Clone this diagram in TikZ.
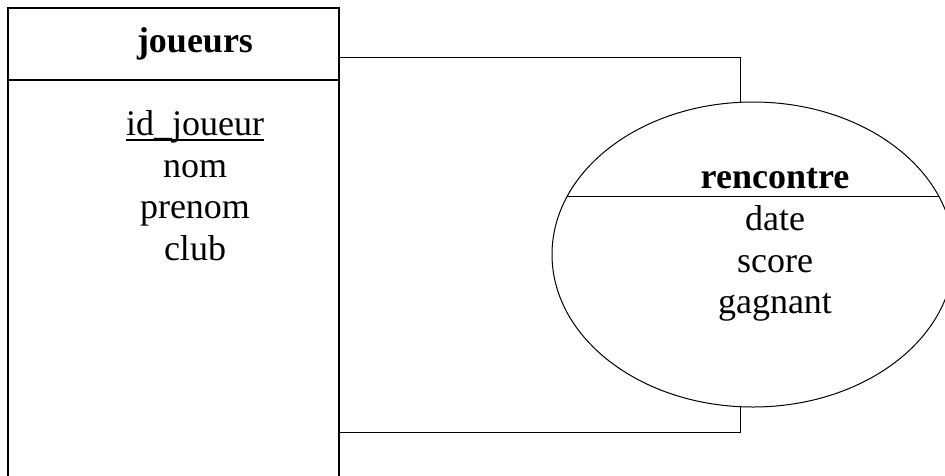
\documentclass[tikz,border=0pt]{standalone}
\usepackage{fontspec}
\setmainfont{Liberation Serif}
\usetikzlibrary{shapes.geometric}
\begin{document}
\begin{tikzpicture}[x=1pt, y=-1pt, line width=1pt,
    attr/.style={anchor=base, inner sep=0pt, font=\fontsize{36}{40}\selectfont},
    titre/.style={attr, font=\fontsize{36}{40}\selectfont\bfseries}]
  \useasboundingbox (0,0) rectangle (945,475);
  \clip (0,0) rectangle (945,475);
  % entite
  \node[draw, line width=1.3pt, minimum width=331pt, minimum height=482pt, inner sep=0pt] (joueurs) at (173.5,249) {};
  \draw[line width=1.3pt] (joueurs.west |- 0,80) -- (joueurs.east |- 0,80);
  \node[titre] (tj) at (195,52) {joueurs};
  \node[attr] (idj) at (195,135) {id\_joueur};
  \draw[line width=1.3pt] ([yshift=-5pt]idj.base west) -- ([yshift=-5pt]idj.base east);
  \node[attr] (nom) at (195,177) {nom};
  \node[attr] (prenom) at (195,218) {prenom};
  \node[attr] (club) at (195,260) {club};
  % association
  \node[draw, ellipse, minimum width=402pt, minimum height=305pt, inner sep=0pt] (rencontre) at (753,254.5) {};
  \begin{scope}\clip (753,254.5) ellipse (201 and 152.5);\draw (540,196) -- (960,196);\end{scope}
  \node[titre] (tr) at (775,188) {rencontre};
  \node[attr] (date) at (775,230) {date};
  \node[attr] (score) at (775,272) {score};
  \node[attr] (gagnant) at (775,313) {gagnant};
  % pattes
  \coordinate (rh) at (740,102);
  \coordinate (rb) at (740,407);
  \draw (joueurs.east |- 0,57) -| (rh);
  \draw (joueurs.east |- 0,432) -| (rb);
\end{tikzpicture}
\end{document}
